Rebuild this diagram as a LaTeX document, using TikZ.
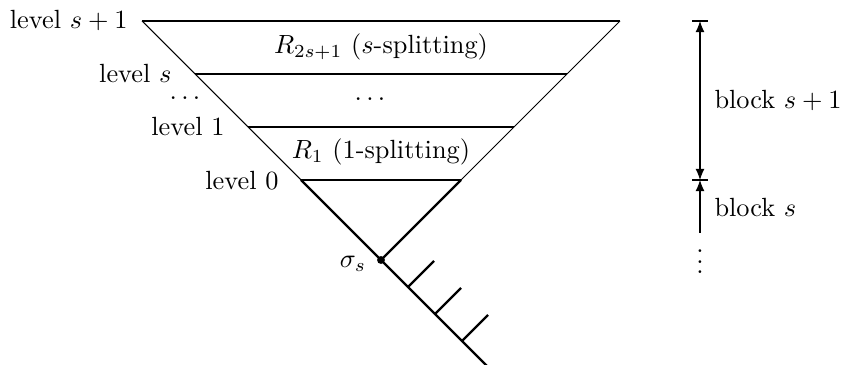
\documentclass[tikz,border=0pt]{standalone}
\usetikzlibrary{arrows.meta}
\begin{document}
\begin{tikzpicture}[x=0.38pt,y=-0.38pt,
  >={Latex[length=4.2pt,width=3.4pt]},
  thinline/.style={line width=0.4pt},
  thickline/.style={line width=0.9pt},
  lvl/.style={inner sep=0pt, anchor=east},
  dimline/.style={line width=0.4pt}]
\useasboundingbox (0,0) rectangle (842,365);
% triangle corners
\coordinate (TL) at (142,21);
\coordinate (TR) at (620,21);
\coordinate (SL) at (195,74);
\coordinate (SR) at (567,74);
\coordinate (OL) at (248,127);
\coordinate (OR) at (514,127);
\coordinate (ZL) at (301,180);
\coordinate (ZR) at (461,180);
\coordinate (sig) at (381,260);
\coordinate (E) at (487,366);
% ticks
\coordinate (T1) at (408,287);
\coordinate (T2) at (435,314);
\coordinate (T3) at (462,341);
\coordinate (U1) at (434,261);
\coordinate (U2) at (461,288);
\coordinate (U3) at (488,315);
% thin lines
\draw[thinline] (TL) -- (TR);
\draw[thinline] (SL) -- (SR);
\draw[thinline] (OL) -- (OR);
\draw[thinline] (TL) -- (ZL);
\draw[thinline] (TR) -- (ZR);
% thick lines
\draw[thickline] (ZL) -- (ZR);
\draw[thickline] (ZL) -- (sig) -- (E);
\draw[thickline] (ZR) -- (sig);
\draw[thickline] (T1) -- (U1);
\draw[thickline] (T2) -- (U2);
\draw[thickline] (T3) -- (U3);
\fill (sig) circle (1.5pt);
% labels
\node[lvl] (ls1) at (128,20) {level $s+1$};
\node[lvl] (ls) at (172,74) {level $s$};
\node[inner sep=0pt, anchor=base] (ldots) at (185,100) {$\ldots$};
\node[lvl] (l1) at (225,127) {level 1};
\node[lvl] (l0) at (279,181) {level 0};
\node (R2) at (381,47) {$R_{2s+1}$ ($s$-splitting)};
\node[inner sep=0pt, anchor=base] (mdots) at (370,101) {$\ldots$};
\node (R1) at (381,152) {$R_1$ (1-splitting)};
\node (sl) at (353,264) {$\sigma_s$};
% right dimension
\coordinate (A1) at (700,21);
\coordinate (A2) at (700,180);
\coordinate (A3) at (700,233);
\coordinate (B1l) at (692,21);
\coordinate (B1r) at (708,21);
\coordinate (B2l) at (692,180);
\coordinate (B2r) at (708,180);
\draw[dimline] (B1l) -- (B1r);
\draw[dimline] (B2l) -- (B2r);
\draw[dimline, <->] (A1) -- (A2);
\draw[dimline, ->] (A3) -- (A2);
\node[inner sep=0pt] (vd) at (700,254) {$\vdots$};
\node[inner sep=0pt, anchor=west] (b1) at (714,100) {block $s+1$};
\node[inner sep=0pt, anchor=west] (b0) at (714,208) {block $s$};
\end{tikzpicture}
\end{document}
